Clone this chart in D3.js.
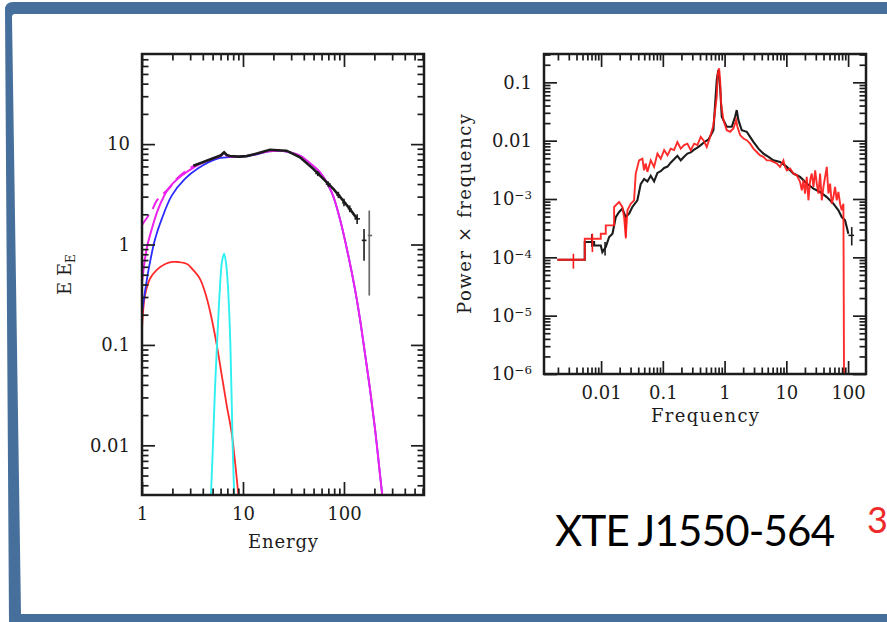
<!DOCTYPE html>
<html>
<head>
<meta charset="utf-8">
<script src="https://cdn.jsdelivr.net/npm/d3@7"></script>
<style>
  body { margin: 0; background: #fff; }
  svg { display: block; }
</style>
</head>
<body>
<div id="graph"></div>
<script>
// ---- left panel: energy spectrum, pairs are [energy, E*F(E)] ----
var energyTicks  = [1, 10, 100];
var energyLabels = ["1", "10", "100"];
var fluxTicks    = [0.01, 0.1, 1, 10];
var fluxLabels   = ["0.01", "0.1", "1", "10"];

// disk blackbody (red)
var diskCurve = [[1, 0.145], [1.07, 0.31], [1.2, 0.456], [1.4, 0.56], [1.7, 0.64], [2.0, 0.67], [2.3, 0.67],
  [2.8, 0.64], [3.2, 0.56], [3.75, 0.455], [4.2, 0.336], [4.7, 0.22], [5.5, 0.1], [6.2, 0.048],
  [6.9, 0.025], [7.7, 0.0136], [8.3, 0.0072], [9.0, 0.0032]];
// iron line (cyan)
var lineCurve = [[4.8, 0.003], [5.0, 0.008], [5.3, 0.04], [5.6, 0.13], [5.9, 0.36], [6.2, 0.68], [6.5, 0.81],
  [6.8, 0.65], [7.1, 0.38], [7.5, 0.1], [7.9, 0.01], [8.2, 0.003]];
// comptonised component (blue)
var comptCurve = [[1, 0.21], [1.15, 0.53], [1.35, 1.14], [1.57, 1.8], [1.97, 3.07], [2.66, 4.5], [3.6, 5.75],
  [5.7, 7.2], [8, 7.45], [10, 7.5], [13, 7.8], [18, 8.45], [25, 8.5], [30, 8.2], [36.7, 7.65], [45, 6.55],
  [57.8, 5.2], [75.5, 3.3], [91.2, 1.79], [110.4, 0.775], [128.4, 0.36], [144, 0.181], [161.5, 0.0815],
  [180.8, 0.0365], [202.8, 0.0147], [227, 0.0052], [240, 0.0031]];
// total model (magenta)
var totalCurve = [[1, 0.42], [1.11, 0.9], [1.25, 1.43], [1.45, 2.27], [1.82, 3.58], [2.47, 4.86], [3.35, 5.95],
  [4, 6.55], [5, 7.15], [6, 7.6], [6.5, 8.1], [7, 7.6], [8, 7.5], [10, 7.55], [13, 7.9], [18, 8.5], [25, 8.55],
  [30, 8.25], [36.7, 7.69], [45, 6.6], [57.8, 5.25], [75.5, 3.32], [91.2, 1.8], [110.4, 0.777], [128.4, 0.362],
  [144, 0.182], [161.5, 0.0817], [180.8, 0.0366], [202.8, 0.0147], [227, 0.0052], [240, 0.0031]];
// unabsorbed model (magenta dashed)
var unabsCurve = [[1, 1.57], [1.25, 2.18], [1.4, 2.74], [1.89, 3.7], [2.2, 4.5], [2.97, 5.77], [3.5, 6.2]];
// data (black)
var specData = [[3.22, 6.1], [4, 6.6], [5, 7.2], [6, 7.7], [6.5, 8.3], [6.9, 7.8], [7.4, 7.6], [9, 7.5],
  [10.9, 7.6], [14, 8.1], [18.5, 8.8], [22, 8.7], [27, 8.6], [36.7, 7.4], [49.6, 5.67], [62.4, 4.5],
  [78.5, 3.58], [95, 2.85], [114, 2.27], [135, 1.8]];
// error crosses: [E, F, Elo, Ehi, Flo, Fhi]
var specErr = [[55, 5.1, 52, 58, 4.8, 5.4], [70, 4.0, 66, 74, 3.75, 4.25], [88, 3.1, 84, 92, 2.9, 3.35],
  [100, 2.6, 96, 105, 2.4, 2.85], [114, 2.27, 109, 119, 2.1, 2.45],
  [135, 1.8, 127, 144, 1.6, 2.0], [158, 1.1, 150, 167, 0.69, 1.43]];
var specErrGrey = [[178, 1.23, 172, 190, 0.31, 2.18]];

// ---- right panel: power spectrum, pairs are [frequency, power*frequency] ----
var freqTicks  = [0.01, 0.1, 1, 10, 100];
var freqLabels = ["0.01", "0.1", "1", "10", "100"];
var powTicks   = [1e-6, 1e-5, 1e-4, 1e-3, 0.01, 0.1];
var powLabels  = ["10^\u22126", "10^\u22125", "10^\u22124", "10^\u22123", "0.01", "0.1"];

var blackPds = [[0.00196, 9.1e-5], [0.00544, 9.1e-5], [0.00544, 1.83e-4], [0.00771, 1.83e-4], [0.00771, 1.6e-4],
  [0.00988, 1.6e-4], [0.0105, 1.23e-4], [0.0119, 1.5e-4], [0.0135, 2.23e-4], [0.0153, 2.54e-4], [0.0173, 4.9e-4],
  [0.0196, 5.98e-4], [0.0221, 6.84e-4], [0.0251, 4.9e-4], [0.0284, 5.6e-4], [0.0321, 7.3e-4], [0.0387, 9.5e-4],
  [0.0438, 1.8e-3], [0.0497, 2.2e-3], [0.0562, 2.0e-3], [0.0637, 2.5e-3], [0.0722, 2.0e-3], [0.0817, 2.8e-3],
  [0.0925, 3.0e-3], [0.105, 3.4e-3], [0.119, 3.6e-3], [0.134, 4.2e-3], [0.152, 4.8e-3], [0.172, 5.5e-3],
  [0.195, 4.6e-3], [0.221, 5.3e-3], [0.25, 6.0e-3], [0.283, 6.3e-3], [0.321, 7.0e-3], [0.363, 7.6e-3],
  [0.411, 8.4e-3], [0.466, 9.4e-3], [0.55, 0.0105], [0.659, 0.0151], [0.747, 0.11], [0.794, 0.1625], [0.846, 0.0841],
  [0.9, 0.0257], [1.084, 0.0173], [1.306, 0.0173], [1.48, 0.0257], [1.574, 0.0334], [1.675, 0.0225],
  [1.897, 0.0151], [2.285, 0.0142], [2.587, 0.0116], [2.93, 9.55e-3], [3.53, 7.3e-3], [4.26, 6.0e-3],
  [5.13, 5.27e-3], [6.18, 4.6e-3], [7.92, 4.33e-3], [10.2, 3.55e-3], [13.0, 2.73e-3], [16.7, 2.39e-3],
  [21.4, 1.84e-3], [27.5, 1.51e-3], [35.2, 1.32e-3], [45.2, 1.08e-3], [57.8, 8.3e-4], [69.7, 6.4e-4],
  [78.9, 4.9e-4], [89.3, 4.3e-4], [95.1, 3.3e-4], [101, 2.54e-4]];

var redPds = [[0.00196, 9.1e-5], [0.00544, 9.1e-5], [0.00544, 2.08e-4], [0.00988, 2.08e-4], [0.00988, 2.54e-4],
  [0.0119, 2.54e-4], [0.0119, 3.53e-4], [0.01625, 3.53e-4], [0.01625, 7.3e-4], [0.01955, 8.9e-4], [0.0221, 7.3e-4],
  [0.0236, 4.9e-4], [0.0251, 2.23e-4], [0.0267, 6.4e-4], [0.0302, 8.3e-4], [0.0342, 9.5e-4], [0.0364, 2.73e-3],
  [0.0412, 4.6e-3], [0.0467, 4.9e-3], [0.0497, 3.1e-3], [0.0528, 4.06e-3], [0.0562, 2.91e-3], [0.0637, 4.6e-3],
  [0.0722, 3.55e-3], [0.0817, 6.0e-3], [0.0925, 4.9e-3], [0.105, 6.9e-3], [0.119, 5.6e-3], [0.134, 7.3e-3],
  [0.152, 6.9e-3], [0.172, 9.5e-3], [0.195, 7.3e-3], [0.221, 8.4e-3], [0.25, 8.9e-3], [0.283, 6.9e-3],
  [0.321, 8.9e-3], [0.363, 8.4e-3], [0.411, 0.01164], [0.454, 0.0102], [0.514, 7.8e-3], [0.582, 0.0116],
  [0.659, 0.01846], [0.702, 0.0334], [0.747, 0.0566], [0.775, 0.1426], [0.815, 0.174], [0.846, 0.11],
  [0.878, 0.0435], [0.958, 0.0225], [1.084, 0.0151], [1.228, 0.0142], [1.39, 0.0162], [1.536, 0.0225],
  [1.614, 0.0173], [1.782, 0.01245], [2.018, 0.0109], [2.285, 0.0102], [2.587, 8.9e-3], [2.93, 7.3e-3],
  [3.32, 6.4e-3], [3.76, 5.6e-3], [4.26, 5.27e-3], [4.82, 4.6e-3], [5.46, 4.6e-3], [6.18, 4.33e-3],
  [7.0, 4.06e-3], [7.92, 3.55e-3], [8.97, 4.6e-3], [9.55, 3.55e-3], [10.2, 3.1e-3], [11.5, 3.33e-3],
  [13.0, 2.73e-3], [14.8, 2.55e-3], [16.7, 1.96e-3], [17.8, 1.41e-3], [18.9, 2.1e-3], [20.1, 1.24e-3],
  [21.4, 2.39e-3], [22.8, 9.5e-4], [24.3, 2.1e-3], [25.8, 2.73e-3], [27.5, 1.61e-3], [29.3, 3.1e-3],
  [31.1, 1.84e-3], [33.1, 1.24e-3], [35.2, 2.73e-3], [37.5, 9.5e-4], [39.9, 1.61e-3], [45.2, 3.55e-3],
  [48.0, 1.24e-3], [51.2, 1.84e-3], [54.3, 8.3e-4], [57.8, 1.08e-3], [61.5, 1.61e-3], [65.5, 9.5e-4],
  [69.7, 1.32e-3], [74.2, 8.3e-4], [78.9, 6.4e-4], [84.0, 8.3e-4], [86.1, 5e-7]];

// error bars: [f, p, flo, fhi, plo, phi]
var redPdsErr = [[0.00356, 9.1e-5, 0.00356, 0.00356, 6.4e-5, 1.15e-4], [0.00723, 2.08e-4, 0.00723, 0.00723, 1.23e-4, 2.55e-4],
  [0.0251, 3.5e-4, 0.0251, 0.0251, 2.1e-4, 4.9e-4]];
var blackPdsErr = [[0.0071, 1.83e-4, 0.0071, 0.0071, 1.5e-4, 2.5e-4], [0.0116, 1.5e-4, 0.0116, 0.0116, 1.08e-4, 1.83e-4],
  [114.6, 2.38e-4, 101, 125, 1.6e-4, 3.3e-4]];

var ink = "#1c1c1c";
var plotFont = "DejaVu Serif";

var svg = d3.select("#graph").append("svg")
    .attr("width", 887)
    .attr("height", 622);

// slide frame (blue band, photographed a bit skewed)
svg.append("path")
    .attr("d", "M887,2 L13,2 Q5,2 5,10 L9,622 L887,622 L887,614 L21,614 L12,17 Q12,14 15,14 L887,14 Z")
    .attr("fill", "#46709b");

function isDecade(v) {
    var l = Math.log10(v);
    return Math.abs(l - Math.round(l)) < 1e-6;
}

/**
 * ticks on all four sides, pointing inwards, labels on bottom and left
 */
function logAxes(g, box, x, y, xTicks, xLabels, yTicks, yLabels) {
    var xMinor = x.ticks().filter(function(v) { return !isDecade(v); });
    var yMinor = y.ticks().filter(function(v) { return !isDecade(v); });
    var minor = 6.5, major = 13;

    g.append("g").attr("class", "ax").attr("transform", "translate(0," + box.bottom + ")")
        .call(d3.axisBottom(x).tickValues(xMinor).tickSize(-minor).tickFormat(""));
    g.append("g").attr("class", "ax").attr("transform", "translate(0," + box.top + ")")
        .call(d3.axisTop(x).tickValues(xMinor).tickSize(-minor).tickFormat(""));
    g.append("g").attr("class", "ax").attr("transform", "translate(" + box.left + ",0)")
        .call(d3.axisLeft(y).tickValues(yMinor).tickSize(-minor).tickFormat(""));
    g.append("g").attr("class", "ax").attr("transform", "translate(" + box.right + ",0)")
        .call(d3.axisRight(y).tickValues(yMinor).tickSize(-minor).tickFormat(""));

    g.append("g").attr("class", "ax").attr("transform", "translate(0," + box.bottom + ")")
        .call(d3.axisBottom(x).tickValues(xTicks).tickSize(-major).tickPadding(12)
            .tickFormat(function(d, i) { return xLabels[i]; }));
    g.append("g").attr("class", "ax").attr("transform", "translate(0," + box.top + ")")
        .call(d3.axisTop(x).tickValues(xTicks).tickSize(-major).tickFormat(""));
    g.append("g").attr("class", "ax").attr("transform", "translate(" + box.left + ",0)")
        .call(d3.axisLeft(y).tickValues(yTicks).tickSize(-major).tickPadding(12)
            .tickFormat(function(d, i) { return yLabels[i]; }));
    g.append("g").attr("class", "ax").attr("transform", "translate(" + box.right + ",0)")
        .call(d3.axisRight(y).tickValues(yTicks).tickSize(-major).tickFormat(""));

    g.selectAll("g.ax")
        .attr("font-family", plotFont)
        .attr("font-size", 18);
    g.selectAll(".domain").remove();
    g.selectAll(".tick line").attr("stroke", ink).attr("stroke-width", 1.7);
    g.selectAll(".tick text").attr("fill", ink);

    // "10^-3" style labels -> superscript
    g.selectAll(".tick text").each(function() {
        var t = d3.select(this), s = t.text();
        if (s.indexOf("^") >= 0) {
            var parts = s.split("^");
            t.text(parts[0]);
            t.append("tspan").attr("dy", "-0.5em").attr("font-size", "0.66em").text(parts[1]);
        }
    });

    g.append("rect")
        .attr("x", box.left).attr("y", box.top)
        .attr("width", box.right - box.left).attr("height", box.bottom - box.top)
        .attr("fill", "none").attr("stroke", ink).attr("stroke-width", 2.5);
}

function errorBars(g, rows, x, y, colour, width) {
    var bars = g.append("g").attr("stroke", colour).attr("stroke-width", width);
    rows.forEach(function(r) {
        bars.append("line").attr("x1", x(r[0])).attr("x2", x(r[0])).attr("y1", y(r[4])).attr("y2", y(r[5]));
        bars.append("line").attr("x1", x(r[2])).attr("x2", x(r[3])).attr("y1", y(r[1])).attr("y2", y(r[1]));
    });
}

/**
 * energy spectrum with model components
 */
function makeSpectrum() {
    var box = {left: 142, top: 54, right: 424, bottom: 495};
    var x = d3.scaleLog().domain([1, 620]).range([box.left, box.right]);
    var y = d3.scaleLog().domain([0.0032, 79]).range([box.bottom, box.top]);

    var g = svg.append("g");
    svg.append("defs").append("clipPath").attr("id", "clipSpec")
        .append("rect").attr("x", box.left).attr("y", box.top)
        .attr("width", box.right - box.left).attr("height", box.bottom - box.top);

    var smooth = d3.line()
        .x(function(d) { return x(d[0]); })
        .y(function(d) { return y(d[1]); })
        .curve(d3.curveCatmullRom.alpha(0.5));

    var curves = g.append("g").attr("clip-path", "url(#clipSpec)").attr("fill", "none");

    curves.append("path").attr("d", smooth(diskCurve)).attr("stroke", "#ff2a2a").attr("stroke-width", 1.8);
    curves.append("path").attr("d", smooth(lineCurve)).attr("stroke", "#2ef0f0").attr("stroke-width", 1.9);
    curves.append("path").attr("d", smooth(comptCurve)).attr("stroke", "#2b2bff").attr("stroke-width", 1.8);
    curves.append("path").attr("d", smooth(totalCurve)).attr("stroke", "#ee22ee").attr("stroke-width", 2);
    curves.append("path").attr("d", smooth(unabsCurve)).attr("stroke", "#ee22ee").attr("stroke-width", 2)
        .attr("stroke-dasharray", "12,7");
    curves.append("path").attr("d", d3.line()
            .x(function(d) { return x(d[0]); })
            .y(function(d) { return y(d[1]); })(specData))
        .attr("stroke", ink).attr("stroke-width", 2.6);

    errorBars(curves, specErr, x, y, ink, 1.6);
    errorBars(curves, specErrGrey, x, y, "#6a6a6a", 1.7);

    logAxes(g, box, x, y, energyTicks, energyLabels, fluxTicks, fluxLabels);

    g.append("text")
        .attr("x", (box.left + box.right) / 2).attr("y", 548)
        .attr("text-anchor", "middle")
        .attr("font-family", plotFont).attr("font-size", 18).attr("fill", ink)
        .attr("textLength", 70)
        .text("Energy");

    var yl = g.append("text")
        .attr("transform", "translate(71," + ((box.top + box.bottom) / 2) + ") rotate(-90)")
        .attr("text-anchor", "middle")
        .attr("font-family", plotFont).attr("font-size", 18).attr("fill", ink)
        .text("E E");
    yl.append("tspan").attr("dy", "0.35em").attr("font-size", 12).text("E");
}

/**
 * power density spectrum (two observations, black and red)
 */
function makePowerSpectrum() {
    var box = {left: 544, top: 54, right: 866, bottom: 374};
    var x = d3.scaleLog().domain([0.00119, 195]).range([box.left, box.right]);
    var y = d3.scaleLog().domain([1e-6, 0.306]).range([box.bottom, box.top]);

    var g = svg.append("g");
    svg.select("defs").append("clipPath").attr("id", "clipPds")
        .append("rect").attr("x", box.left).attr("y", box.top)
        .attr("width", box.right - box.left).attr("height", box.bottom - box.top);

    var line = d3.line()
        .x(function(d) { return x(d[0]); })
        .y(function(d) { return y(d[1]); });

    var curves = g.append("g").attr("clip-path", "url(#clipPds)").attr("fill", "none");

    curves.append("path").attr("d", line(blackPds)).attr("stroke", ink).attr("stroke-width", 2.1);
    errorBars(curves, blackPdsErr, x, y, ink, 1.6);
    curves.append("path").attr("d", line(redPds)).attr("stroke", "#ff1a1a").attr("stroke-width", 1.9)
        .attr("stroke-opacity", 0.92);
    errorBars(curves, redPdsErr, x, y, "#ff1a1a", 1.6);

    logAxes(g, box, x, y, freqTicks, freqLabels, powTicks, powLabels);

    g.append("text")
        .attr("x", (box.left + box.right) / 2).attr("y", 422)
        .attr("text-anchor", "middle")
        .attr("font-family", plotFont).attr("font-size", 18).attr("fill", ink)
        .attr("textLength", 108)
        .text("Frequency");

    g.append("text")
        .attr("transform", "translate(471," + ((box.top + box.bottom) / 2) + ") rotate(-90)")
        .attr("text-anchor", "middle")
        .attr("font-family", plotFont).attr("font-size", 18).attr("fill", ink)
        .attr("textLength", 200)
        .text("Power \u00d7 frequency");
}

makeSpectrum();
makePowerSpectrum();

// slide caption and page number
svg.append("text")
    .attr("x", 555).attr("y", 546)
    .attr("font-family", "Lato").attr("font-size", 42).attr("fill", "#000")
    .attr("textLength", 280)
    .text("XTE J1550-564");

svg.append("text")
    .attr("x", 867).attr("y", 533)
    .attr("font-family", "Lato").attr("font-size", 36).attr("fill", "#ee2a2a")
    .text("3");
</script>
</body>
</html>
